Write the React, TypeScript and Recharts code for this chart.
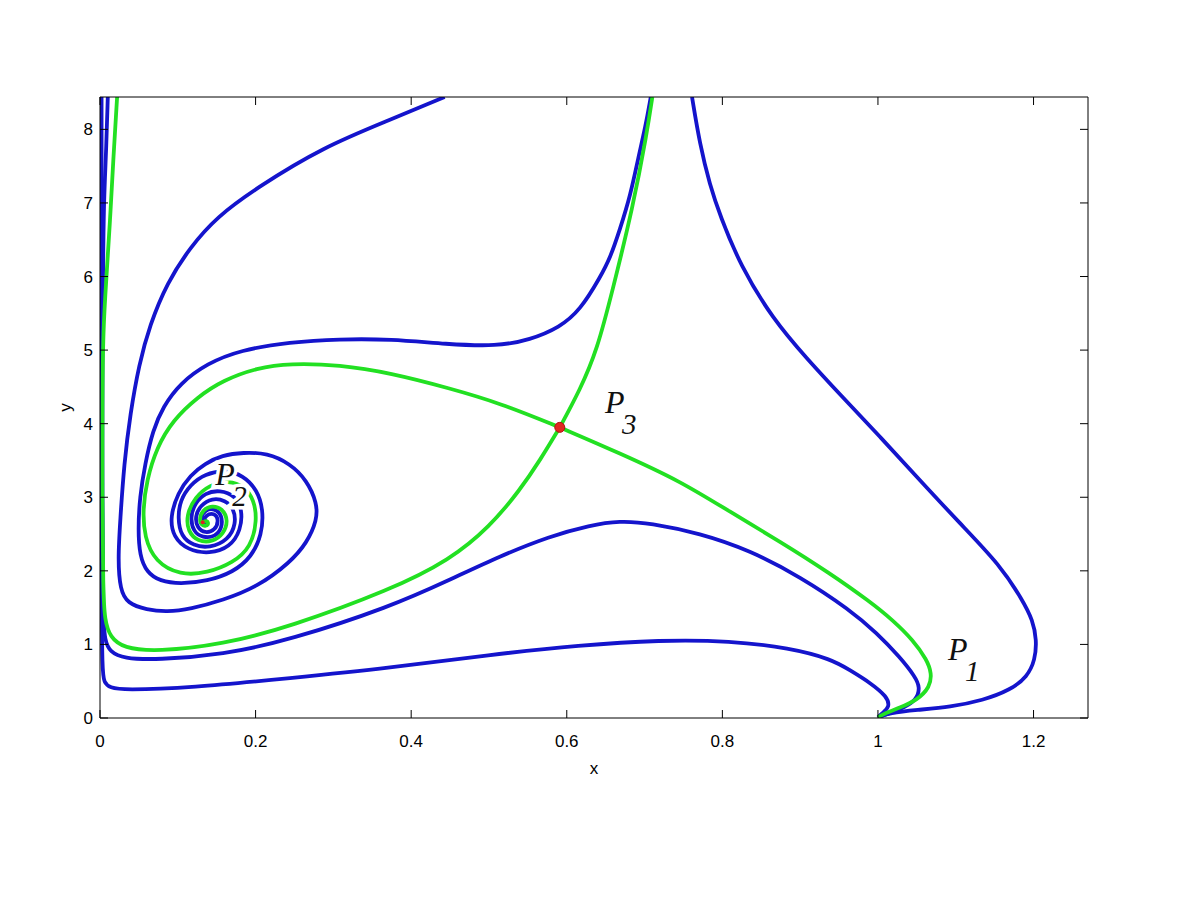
import { ComposedChart, Line, Scatter, XAxis, YAxis } from 'recharts';

type Pt = { x: number; y: number };
const toPts = (a: number[][]): Pt[] => a.map(([x, y]) => ({ x, y }));

const xTicks = [0, 0.2, 0.4, 0.6, 0.8, 1, 1.2];
const yTicks = [0, 1, 2, 3, 4, 5, 6, 7, 8];

// blue trajectories
const blueBottom = toPts([
  [0.002, 8.44], [0.002, 6.0], [0.002, 3.5], [0.002, 1.6], [0.003, 0.65], [0.005, 0.48],
  [0.013, 0.41], [0.03, 0.38], [0.116, 0.41], [0.244, 0.54], [0.373, 0.68], [0.501, 0.86],
  [0.617, 0.99], [0.72, 1.06], [0.81, 1.05], [0.887, 0.95], [0.94, 0.8], [0.964, 0.65],
  [0.99, 0.48], [1.012, 0.29], [1.015, 0.15], [1.006, 0.07], [1.0, 0.01],
]);

const blueMiddle = toPts([
  [0.01, 8.44], [0.008, 7.72], [0.005, 7.04], [0.004, 6.22], [0.003, 5.0], [0.003, 2.96],
  [0.004, 1.4], [0.006, 1.05], [0.013, 0.9], [0.03, 0.81], [0.073, 0.79], [0.158, 0.86],
  [0.244, 1.06], [0.373, 1.51], [0.45, 1.88], [0.514, 2.2], [0.578, 2.47], [0.63, 2.62],
  [0.668, 2.68], [0.707, 2.65], [0.771, 2.51], [0.835, 2.28], [0.9, 1.92], [0.964, 1.47],
  [0.999, 1.15], [1.028, 0.83], [1.048, 0.56], [1.054, 0.42], [1.05, 0.24], [1.028, 0.11],
  [1.0, 0.01],
]);

const blueOuter = toPts([
  [0.761, 8.44], [0.771, 7.8], [0.784, 7.24], [0.797, 6.83], [0.823, 6.15], [0.865, 5.42],
  [0.909, 4.88], [0.951, 4.4], [1.003, 3.82], [1.054, 3.23], [1.105, 2.65], [1.157, 2.08],
  [1.186, 1.6], [1.199, 1.33], [1.204, 1.06], [1.202, 0.79], [1.192, 0.56], [1.17, 0.38],
  [1.135, 0.24], [1.093, 0.15], [1.05, 0.11], [1.015, 0.07], [1.0, 0.01],
]);

const blueSpiralA = toPts([
  [0.443, 8.44], [0.373, 8.13], [0.287, 7.76], [0.202, 7.21], [0.15, 6.81], [0.116, 6.4],
  [0.086, 5.91], [0.064, 5.34], [0.05, 4.8], [0.039, 4.14], [0.031, 3.46], [0.026, 2.69],
  [0.023, 2.15], [0.026, 1.74], [0.035, 1.56], [0.06, 1.47], [0.086, 1.44], [0.116, 1.48],
  [0.158, 1.6], [0.202, 1.78], [0.244, 2.11], [0.266, 2.38], [0.279, 2.69], [0.279, 2.92],
  [0.266, 3.23], [0.244, 3.46], [0.215, 3.6], [0.184, 3.61], [0.157, 3.57], [0.135, 3.46],
  [0.116, 3.3], [0.1, 3.06], [0.09, 2.73], [0.094, 2.46], [0.113, 2.28], [0.141, 2.23],
  [0.167, 2.32], [0.181, 2.55], [0.183, 2.83], [0.174, 3.02], [0.154, 3.1], [0.135, 3.06],
  [0.122, 2.92], [0.116, 2.73], [0.12, 2.53], [0.132, 2.45], [0.148, 2.46], [0.157, 2.58],
  [0.157, 2.76], [0.147, 2.85], [0.135, 2.83], [0.129, 2.72], [0.132, 2.61], [0.139, 2.62],
  [0.135, 2.69],
]);

const blueSpiralB = toPts([
  [0.708, 8.44], [0.701, 8.03], [0.692, 7.62], [0.682, 7.11], [0.668, 6.63], [0.656, 6.26],
  [0.643, 5.99], [0.617, 5.54], [0.591, 5.31], [0.553, 5.14], [0.51, 5.05], [0.446, 5.08],
  [0.373, 5.15], [0.308, 5.15], [0.244, 5.11], [0.18, 5.0], [0.138, 4.82], [0.103, 4.55],
  [0.081, 4.23], [0.068, 3.91], [0.058, 3.46], [0.051, 3.0], [0.049, 2.55], [0.051, 2.21],
  [0.06, 1.98], [0.077, 1.86], [0.103, 1.82], [0.138, 1.86], [0.171, 1.98], [0.195, 2.19],
  [0.208, 2.49], [0.21, 2.83], [0.202, 3.1], [0.184, 3.3], [0.161, 3.37], [0.135, 3.32],
  [0.116, 3.17], [0.103, 2.96], [0.1, 2.72], [0.104, 2.47], [0.12, 2.34], [0.141, 2.31],
  [0.165, 2.42], [0.175, 2.64], [0.172, 2.85], [0.161, 2.96], [0.144, 2.99], [0.129, 2.89],
  [0.122, 2.74], [0.125, 2.58], [0.135, 2.51], [0.148, 2.55], [0.153, 2.69], [0.147, 2.79],
  [0.136, 2.76], [0.132, 2.66],
]);

// green separatrices through P3
const greenStableUp = toPts([
  [0.591, 3.95], [0.617, 4.46], [0.639, 5.0], [0.659, 5.82], [0.685, 6.94], [0.703, 7.95],
  [0.71, 8.44],
]);

const greenStableLow = toPts([
  [0.591, 3.95], [0.566, 3.51], [0.54, 3.1], [0.501, 2.6], [0.45, 2.15], [0.373, 1.74],
  [0.244, 1.24], [0.158, 1.0], [0.073, 0.9], [0.03, 0.95], [0.013, 1.1], [0.006, 1.33],
  [0.004, 1.74], [0.003, 2.96], [0.003, 4.32], [0.004, 5.27], [0.008, 5.95], [0.013, 6.77],
  [0.017, 7.58], [0.022, 8.44],
]);

const greenUnstableLeft = toPts([
  [0.591, 3.95], [0.514, 4.28], [0.45, 4.48], [0.373, 4.69], [0.308, 4.8], [0.244, 4.82],
  [0.202, 4.76], [0.158, 4.59], [0.125, 4.36], [0.094, 4.05], [0.073, 3.68], [0.06, 3.23],
  [0.055, 2.83], [0.057, 2.46], [0.071, 2.12], [0.103, 1.94], [0.138, 1.97], [0.171, 2.11],
  [0.194, 2.32], [0.202, 2.69], [0.198, 2.96], [0.186, 3.15], [0.165, 3.23], [0.141, 3.17],
  [0.122, 3.0], [0.111, 2.76], [0.113, 2.53], [0.126, 2.4], [0.144, 2.39], [0.159, 2.5],
  [0.165, 2.69], [0.157, 2.85], [0.144, 2.89], [0.132, 2.83], [0.127, 2.69], [0.132, 2.6],
  [0.14, 2.62], [0.138, 2.69], [0.132, 2.66],
]);

const greenUnstableRight = toPts([
  [0.591, 3.95], [0.668, 3.6], [0.746, 3.22], [0.81, 2.8], [0.874, 2.4], [0.938, 1.97],
  [0.99, 1.58], [1.019, 1.33], [1.045, 1.06], [1.063, 0.79], [1.069, 0.61], [1.067, 0.42],
  [1.05, 0.24], [1.028, 0.14], [1.006, 0.05], [1.0, 0.01],
]);

const saddle = [{ x: 0.591, y: 3.95 }];
const focus = [{ x: 0.132, y: 2.66 }];
const pointLabels = [
  { x: 1.09, y: 0.79, sub: '1' },
  { x: 0.148, y: 3.17, sub: '2' },
  { x: 0.649, y: 4.14, sub: '3' },
];

const BLUE = '#1414cc';
const GREEN = '#22e022';
const tickFont = "'Liberation Sans Narrow', 'Liberation Sans', Arial, sans-serif";
const mathFont = "'Liberation Serif', 'DejaVu Serif', serif";

const blues = [blueBottom, blueMiddle, blueOuter, blueSpiralA, blueSpiralB];
const greens = [greenStableUp, greenStableLow, greenUnstableLeft, greenUnstableRight];

const PLabel = (props: any) => {
  const { cx, cy, payload } = props;
  return (
    <g>
      <text x={cx} y={cy} fontFamily={mathFont} fontStyle="italic" fontSize={32}
        fill="#111" stroke="#fff" strokeWidth={7} paintOrder="stroke">
        P
      </text>
      <text x={cx + 17} y={cy + 21} fontFamily={mathFont} fontStyle="italic" fontSize={29}
        fill="#111" stroke="#fff" strokeWidth={7} paintOrder="stroke">
        {payload.sub}
      </text>
    </g>
  );
};

const Nothing = () => <g />;

const App = () => (
  <div style={{ position: 'absolute', left: 0, top: 0, background: '#fff' }}>
    <ComposedChart width={1200} height={900} margin={{ top: 96, right: 111, bottom: 122, left: 40 }}>
      <XAxis
        type="number"
        dataKey="x"
        domain={[0, 1.27]}
        allowDataOverflow
        ticks={xTicks}
        height={60}
        tickSize={-8}
        tickMargin={25}
        axisLine={{ stroke: '#000' }}
        tickLine={{ stroke: '#000' }}
        tick={{ fill: '#000', fontSize: 17, fontFamily: tickFont }}
        label={{ value: 'x', position: 'insideBottom', offset: 4, fill: '#000', fontSize: 17, fontFamily: tickFont }}
      />
      <XAxis
        xAxisId="top"
        orientation="top"
        type="number"
        dataKey="x"
        domain={[0, 1.27]}
        allowDataOverflow
        ticks={xTicks}
        height={1}
        tickSize={-8}
        axisLine={{ stroke: '#000' }}
        tickLine={{ stroke: '#000' }}
        tickFormatter={() => ''}
      />
      <YAxis
        type="number"
        dataKey="y"
        domain={[0, 8.44]}
        allowDataOverflow
        ticks={yTicks}
        width={60}
        tickSize={-8}
        tickMargin={15}
        axisLine={{ stroke: '#000' }}
        tickLine={{ stroke: '#000' }}
        tick={{ fill: '#000', fontSize: 17, fontFamily: tickFont }}
        label={{ value: 'y', angle: -90, position: 'insideLeft', offset: 25, fill: '#000', fontSize: 17, fontFamily: tickFont, style: { textAnchor: 'middle' } }}
      />
      <YAxis
        yAxisId="right"
        orientation="right"
        type="number"
        dataKey="y"
        domain={[0, 8.44]}
        allowDataOverflow
        ticks={yTicks}
        width={1}
        tickSize={-8}
        axisLine={{ stroke: '#000' }}
        tickLine={{ stroke: '#000' }}
        tickFormatter={() => ''}
      />
      <Scatter data={focus} xAxisId="top" yAxisId="right" isAnimationActive={false} shape={Nothing} />
      {blues.map((d, i) => (
        <Line key={'b' + i} data={d} dataKey="y" type="basis" stroke={BLUE} strokeWidth={3.8}
          dot={false} activeDot={false} isAnimationActive={false} />
      ))}
      {greens.map((d, i) => (
        <Line key={'g' + i} data={d} dataKey="y" type="basis" stroke={GREEN} strokeWidth={3.8}
          dot={false} activeDot={false} isAnimationActive={false} />
      ))}
      <Scatter
        data={focus}
        isAnimationActive={false}
        shape={(p: any) => <circle cx={p.cx} cy={p.cy} r={2} fill="#e02020" />}
      />
      <Scatter
        data={saddle}
        isAnimationActive={false}
        shape={(p: any) => <circle cx={p.cx} cy={p.cy} r={5} fill="#e02a20" stroke="#b01010" strokeWidth={1} />}
      />
      <Scatter data={pointLabels} isAnimationActive={false} shape={PLabel} />
    </ComposedChart>
  </div>
);

export default App;
